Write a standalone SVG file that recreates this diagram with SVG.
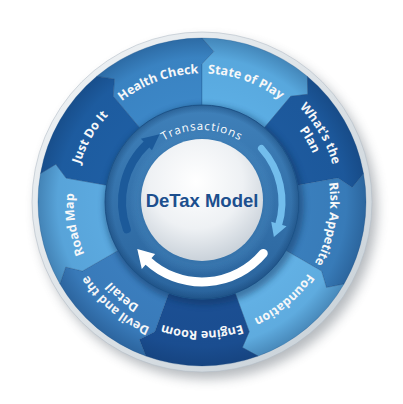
<svg xmlns="http://www.w3.org/2000/svg" width="403" height="404" viewBox="0 0 403 404">
<defs>
<style>
.lbl{font-family:"Open Sans","DejaVu Sans",sans-serif;font-weight:bold;font-size:12.5px;fill:#ffffff}
.trn{font-family:"Open Sans","DejaVu Sans",sans-serif;font-size:11.5px;fill:#ffffff;letter-spacing:1px}
.ttl{font-family:"Liberation Sans","Roboto",sans-serif;font-weight:bold;font-size:18.5px;fill:#1c4f8e}
.seg{stroke:#174a80;stroke-opacity:0.35;stroke-width:0.8}
</style>
<filter id="blur6" x="-20%" y="-20%" width="140%" height="140%"><feGaussianBlur stdDeviation="6"/></filter>
<filter id="blur3" x="-20%" y="-20%" width="140%" height="140%"><feGaussianBlur stdDeviation="3"/></filter>
<linearGradient id="rim" x1="0" y1="0" x2="1" y2="1">
<stop offset="0" stop-color="#f2f5f7"/><stop offset="1" stop-color="#c6cfd6"/>
</linearGradient>
<radialGradient id="segShade" cx="202" cy="202" r="164" gradientUnits="userSpaceOnUse">
<stop offset="0.6" stop-color="#0a2a55" stop-opacity="0"/>
<stop offset="0.88" stop-color="#0a2a55" stop-opacity="0.05"/>
<stop offset="1" stop-color="#0a2a55" stop-opacity="0.3"/>
</radialGradient>
<linearGradient id="ring" x1="0" y1="0" x2="0" y2="1">
<stop offset="0" stop-color="#3f80b9"/><stop offset="1" stop-color="#2a649d"/>
</linearGradient>
<radialGradient id="ringShade" cx="202" cy="202" r="97" gradientUnits="userSpaceOnUse">
<stop offset="0.6" stop-color="#5a9ad0" stop-opacity="0.5"/>
<stop offset="0.75" stop-color="#5a9ad0" stop-opacity="0"/>
<stop offset="0.92" stop-color="#123e6e" stop-opacity="0"/>
<stop offset="1" stop-color="#123e6e" stop-opacity="0.45"/>
</radialGradient>
<radialGradient id="core" cx="0.45" cy="0.35" r="0.7">
<stop offset="0" stop-color="#ffffff"/><stop offset="0.55" stop-color="#eef1f4"/><stop offset="1" stop-color="#c3ccd5"/>
</radialGradient>
<path id="pHealth" d="M80.78,246.12 A129,129 0 0 1 323.22,157.88"/>
<path id="pState" d="M80.78,157.88 A129,129 0 0 1 323.22,246.12"/>
<path id="pPlan1" d="M133.5,83.36 A137,137 0 0 1 270.5,320.64"/>
<path id="pPlan2" d="M141.5,97.21 A121,121 0 0 1 262.5,306.79"/>
<path id="pRisk" d="M224.39,74.96 A129,129 0 0 1 179.61,329.04"/>
<path id="pFound" d="M300.81,119.08 A129,129 0 0 1 103.19,284.92"/>
<path id="pEngine" d="M331,202 A129,129 0 0 1 73,202"/>
<path id="pDevil1" d="M306.94,290.06 A137,137 0 0 1 97.06,113.94"/>
<path id="pDevil2" d="M294.69,279.78 A121,121 0 0 1 109.31,124.22"/>
<path id="pRoad" d="M224.39,329.04 A129,129 0 0 1 179.61,74.96"/>
<path id="pJust" d="M137.5,313.71 A129,129 0 0 1 266.5,90.29"/>
<path id="pTrans" d="M130,202 A72,72 0 0 1 274,202"/>
</defs>

<g id="base">
<circle cx="207" cy="209" r="170" fill="#5d6670" opacity="0.45" filter="url(#blur6)"/>
<circle cx="202" cy="202" r="170" fill="url(#rim)" stroke="#b3bec7" stroke-width="0.6"/>
</g>

<g id="health-check">
<path class="seg" fill="#3c87c7" d="M144.15,133.06 L113.29,96.29 L114.31,79.07 L96.58,76.38 A164,164 0 0 1 202,38 L213.85,51.47 L202,64 L202,112 A90,90 0 0 0 144.15,133.06 Z"/>
<text class="lbl"><textPath href="#pHealth" startOffset="50%" text-anchor="middle">Health Check</textPath></text>
</g>
<g id="state-of-play">
<path class="seg" fill="#5caee4" d="M202,112 L202,64 L213.85,51.47 L202,38 A164,164 0 0 1 307.42,76.38 L307.84,94.29 L290.71,96.29 L259.85,133.06 A90,90 0 0 0 202,112 Z"/>
<text class="lbl"><textPath href="#pState" startOffset="50%" text-anchor="middle">State of Play</textPath></text>
</g>
<g id="whats-the-plan">
<path class="seg" fill="#1d5a9e" d="M259.85,133.06 L290.71,96.29 L307.84,94.29 L307.42,76.38 A164,164 0 0 1 363.51,173.53 L352.31,187.53 L337.90,178.04 L290.63,186.38 A90,90 0 0 0 259.85,133.06 Z"/>
<text class="lbl"><textPath href="#pPlan1" startOffset="50%" text-anchor="middle">What's the</textPath></text>
<text class="lbl"><textPath href="#pPlan2" startOffset="50%" text-anchor="middle">Plan</textPath></text>
</g>
<g id="risk-appetite">
<path class="seg" fill="#3a7fbd" d="M290.63,186.38 L337.90,178.04 L352.31,187.53 L363.51,173.53 A164,164 0 0 1 344.02,284 L326.44,287.53 L321.51,271 L279.94,247 A90,90 0 0 0 290.63,186.38 Z"/>
<text class="lbl"><textPath href="#pRisk" startOffset="50%" text-anchor="middle">Risk Appetite</textPath></text>
</g>
<g id="foundation">
<path class="seg" fill="#63b2e6" d="M279.94,247 L321.51,271 L326.44,287.53 L344.02,284 A164,164 0 0 1 258.09,356.11 L242.35,347.50 L249.20,331.68 L232.78,286.57 A90,90 0 0 0 279.94,247 Z"/>
<text class="lbl"><textPath href="#pFound" startOffset="50%" text-anchor="middle">Foundation</textPath></text>
</g>
<g id="engine-room">
<path class="seg" fill="#1b4f93" d="M232.78,286.57 L249.20,331.68 L242.35,347.50 L258.09,356.11 A164,164 0 0 1 145.91,356.11 L139.38,339.41 L154.80,331.68 L171.22,286.57 A90,90 0 0 0 232.78,286.57 Z"/>
<text class="lbl"><textPath href="#pEngine" startOffset="50%" text-anchor="middle">Engine Room</textPath></text>
</g>
<g id="devil-and-the-detail">
<path class="seg" fill="#3b7ebe" d="M171.22,286.57 L154.80,331.68 L139.38,339.41 L145.91,356.11 A164,164 0 0 1 59.98,284 L65.71,267.01 L82.49,271 L124.06,247 A90,90 0 0 0 171.22,286.57 Z"/>
<text class="lbl"><textPath href="#pDevil1" startOffset="50%" text-anchor="middle">Devil and the</textPath></text>
<text class="lbl"><textPath href="#pDevil2" startOffset="50%" text-anchor="middle">Detail</textPath></text>
</g>
<g id="road-map">
<path class="seg" fill="#5caae0" d="M124.06,247 L82.49,271 L65.71,267.01 L59.98,284 A164,164 0 0 1 40.49,173.53 L55.82,164.19 L66.10,178.04 L113.37,186.38 A90,90 0 0 0 124.06,247 Z"/>
<text class="lbl"><textPath href="#pRoad" startOffset="50%" text-anchor="middle">Road Map</textPath></text>
</g>
<g id="just-do-it">
<path class="seg" fill="#1e5ea3" d="M113.37,186.38 L66.10,178.04 L55.82,164.19 L40.49,173.53 A164,164 0 0 1 96.58,76.38 L114.31,79.07 L113.29,96.29 L144.15,133.06 A90,90 0 0 0 113.37,186.38 Z"/>
<text class="lbl"><textPath href="#pJust" startOffset="50%" text-anchor="middle">Just Do It</textPath></text>
</g>

<g id="center">
<circle cx="202" cy="202" r="164" fill="url(#segShade)"/>
<circle cx="204" cy="205" r="100" fill="#0d2f58" opacity="0.45" filter="url(#blur3)"/>
<circle cx="202" cy="202" r="97" fill="url(#ring)" stroke="#1f5990" stroke-width="1"/>
<circle cx="202" cy="202" r="97" fill="url(#ringShade)"/>
<text class="trn"><textPath href="#pTrans" startOffset="50%" text-anchor="middle">Transactions</textPath></text>
<circle cx="202" cy="201" r="62" fill="#1f5a92" opacity="0.5" filter="url(#blur3)"/>
<circle cx="202" cy="200" r="61" fill="url(#core)"/>
<text class="ttl" x="202" y="207" text-anchor="middle">DeTax Model</text>
</g>

<g id="connectors">
<path d="M126.82,229.36 A80,80 0 0 1 147.44,143.49" fill="none" stroke="#1c5a9a" stroke-width="8" stroke-linecap="round"/>
<polygon points="140.87,138.70 151.98,150.21 159.61,134.16" fill="#1c5a9a"/>
<path d="M261.45,148.47 A80,80 0 0 1 278.50,225.39" fill="none" stroke="#72bdec" stroke-width="7" stroke-linecap="round"/>
<polygon points="286.59,226.25 271.21,221.84 273.90,237.07" fill="#72bdec"/>
<path d="M263.28,253.42 A80,80 0 0 1 147.44,260.51" fill="none" stroke="#ffffff" stroke-width="9" stroke-linecap="round"/>
<polygon points="141.78,268.88 155.16,254.02 137.28,249.02" fill="#ffffff"/>
</g>
</svg>
